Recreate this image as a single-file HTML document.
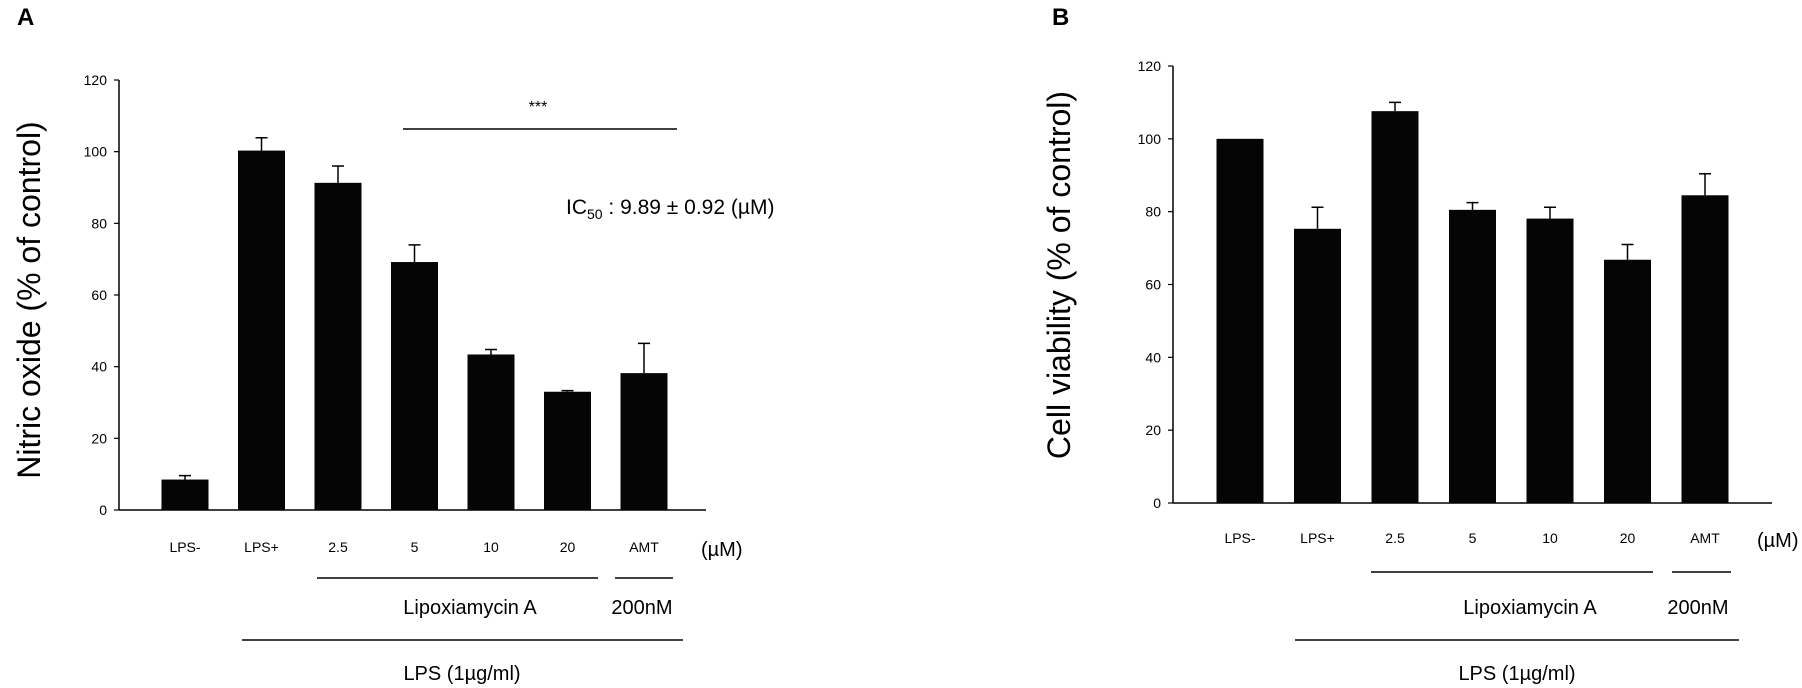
<!DOCTYPE html>
<html><head><meta charset="utf-8"><style>
html,body{margin:0;padding:0;background:#fff;}
svg{display:block;font-family:"Liberation Sans",Arial,sans-serif;}
.n{font-family:"Liberation Sans Narrow","Liberation Sans",sans-serif;}
</style></head><body>
<svg id="fig" width="1802" height="688" viewBox="0 0 1802 688" xmlns="http://www.w3.org/2000/svg">
<text x="17" y="25" font-size="24" font-weight="bold">A</text>
<text x="1052" y="25" font-size="24" font-weight="bold">B</text>
<g id="pa"></g>
<g id="pb"></g>
</svg>
<script>
const categories = ["LPS-","LPS+","2.5","5","10","20","AMT"];
const yTicks = [0,20,40,60,80,100,120];
const noValues = [8.5,100.3,91.3,69.2,43.4,33.0,38.2];
const noErrors = [1.1,3.6,4.7,4.8,1.4,0.3,8.3];
const viabilityValues = [100,75.3,107.6,80.5,78.1,66.8,84.5];
const viabilityErrors = [0,5.9,2.4,2.0,3.1,4.2,5.9];

const NS="http://www.w3.org/2000/svg";
function mk(parent,tag,attrs,txt){const e=document.createElementNS(NS,tag);for(const k in attrs)e.setAttribute(k,attrs[k]);if(txt!==undefined)e.textContent=txt;parent.appendChild(e);return e;}

function drawPanel(g,cfg,values,errors,prefix){
  const y=v=>cfg.y0-(v/120)*(cfg.y0-cfg.y120);
  const x=i=>cfg.x0+i*cfg.step;
  let e;
  e=mk(g,"line",{x1:cfg.ax,y1:cfg.y120,x2:cfg.ax,y2:cfg.y0,stroke:"#000","stroke-width":1.5});
  
  
  e=mk(g,"line",{x1:cfg.ax,y1:cfg.y0,x2:cfg.axEnd,y2:cfg.y0,stroke:"#000","stroke-width":1.5});
  
  
  yTicks.forEach(t=>{
    e=mk(g,"line",{x1:cfg.ax-5,y1:y(t),x2:cfg.ax,y2:y(t),stroke:"#000","stroke-width":1.2});
    
    
    e=mk(g,"text",{x:cfg.ax-12,y:y(t)+5,"font-size":14,"text-anchor":"end",class:"n"},t);
    
    
  });
  values.forEach((v,i)=>{
    const cx=x(i);
    if(errors[i]>0){
      e=mk(g,"path",{d:`M${cx} ${y(v)} V${y(v+errors[i])} M${cx-6} ${y(v+errors[i])} H${cx+6}`,stroke:"#000","stroke-width":1.5,fill:"none"});
      
      
    }
    e=mk(g,"rect",{x:cx-cfg.bw/2,y:y(v),width:cfg.bw,height:cfg.y0-y(v),fill:"#050505"});
    
    
    e=mk(g,"text",{x:cx,y:cfg.labY,"font-size":14,"text-anchor":"middle",class:"n"},categories[i]);
    
    
  });
  e=mk(g,"text",{x:cfg.umX,y:cfg.labY+4,"font-size":20,class:"n"},"(µM)");
  
  
  e=mk(g,"text",{x:cfg.titleX,y:cfg.titleY,"font-size":32,"text-anchor":"middle",transform:`rotate(-90 ${cfg.titleX} ${cfg.titleY})`},cfg.title);
  
  
  const L=cfg.lines;
  e=mk(g,"line",{x1:L.lx1,y1:L.ly,x2:L.lx2,y2:L.ly,stroke:"#000","stroke-width":1.5});
  
  
  e=mk(g,"line",{x1:L.ax1,y1:L.ly,x2:L.ax2,y2:L.ly,stroke:"#000","stroke-width":1.5});
  
  
  e=mk(g,"text",{x:L.ltx,y:L.ty,"font-size":20,"text-anchor":"middle",class:"n"},"Lipoxiamycin A");
  
  
  e=mk(g,"text",{x:L.atx,y:L.ty,"font-size":20,"text-anchor":"middle",class:"n"},"200nM");
  
  
  e=mk(g,"line",{x1:L.px1,y1:L.py,x2:L.px2,y2:L.py,stroke:"#000","stroke-width":1.5});
  
  
  e=mk(g,"text",{x:L.ptx,y:L.pty,"font-size":20,"text-anchor":"middle",class:"n"},"LPS (1µg/ml)");
  
  
}

const ga=document.getElementById("pa");
drawPanel(ga,{ax:119,axEnd:706,y0:510,y120:80,x0:185,step:76.5,bw:47,labY:552,umX:701,
  titleX:40,titleY:300,title:"Nitric oxide (% of control)",
  lines:{ly:578,lx1:317,lx2:598,ax1:615,ax2:673,ltx:470,atx:642,ty:614,px1:242,px2:683,py:640,ptx:462,pty:680}},
  noValues,noErrors,"panel-a");
let s=mk(ga,"line",{x1:403,y1:129,x2:677,y2:129,stroke:"#000","stroke-width":1.5});


s=mk(ga,"text",{x:538,y:112,"font-size":16,"text-anchor":"middle"},"***");


s=mk(ga,"text",{x:566,y:214,"font-size":21},"");


mk(s,"tspan",{},"IC");
mk(s,"tspan",{"font-size":14,dy:5},"50");
mk(s,"tspan",{dy:-5}," : 9.89 ± 0.92 (µM)");

const gb=document.getElementById("pb");
drawPanel(gb,{ax:1173,axEnd:1772,y0:503,y120:66,x0:1240,step:77.5,bw:47,labY:543,umX:1757,
  titleX:1070,titleY:275,title:"Cell viability (% of control)",
  lines:{ly:572,lx1:1371,lx2:1653,ax1:1672,ax2:1731,ltx:1530,atx:1698,ty:614,px1:1295,px2:1739,py:640,ptx:1517,pty:680}},
  viabilityValues,viabilityErrors,"panel-b");
</script>
</body></html>
